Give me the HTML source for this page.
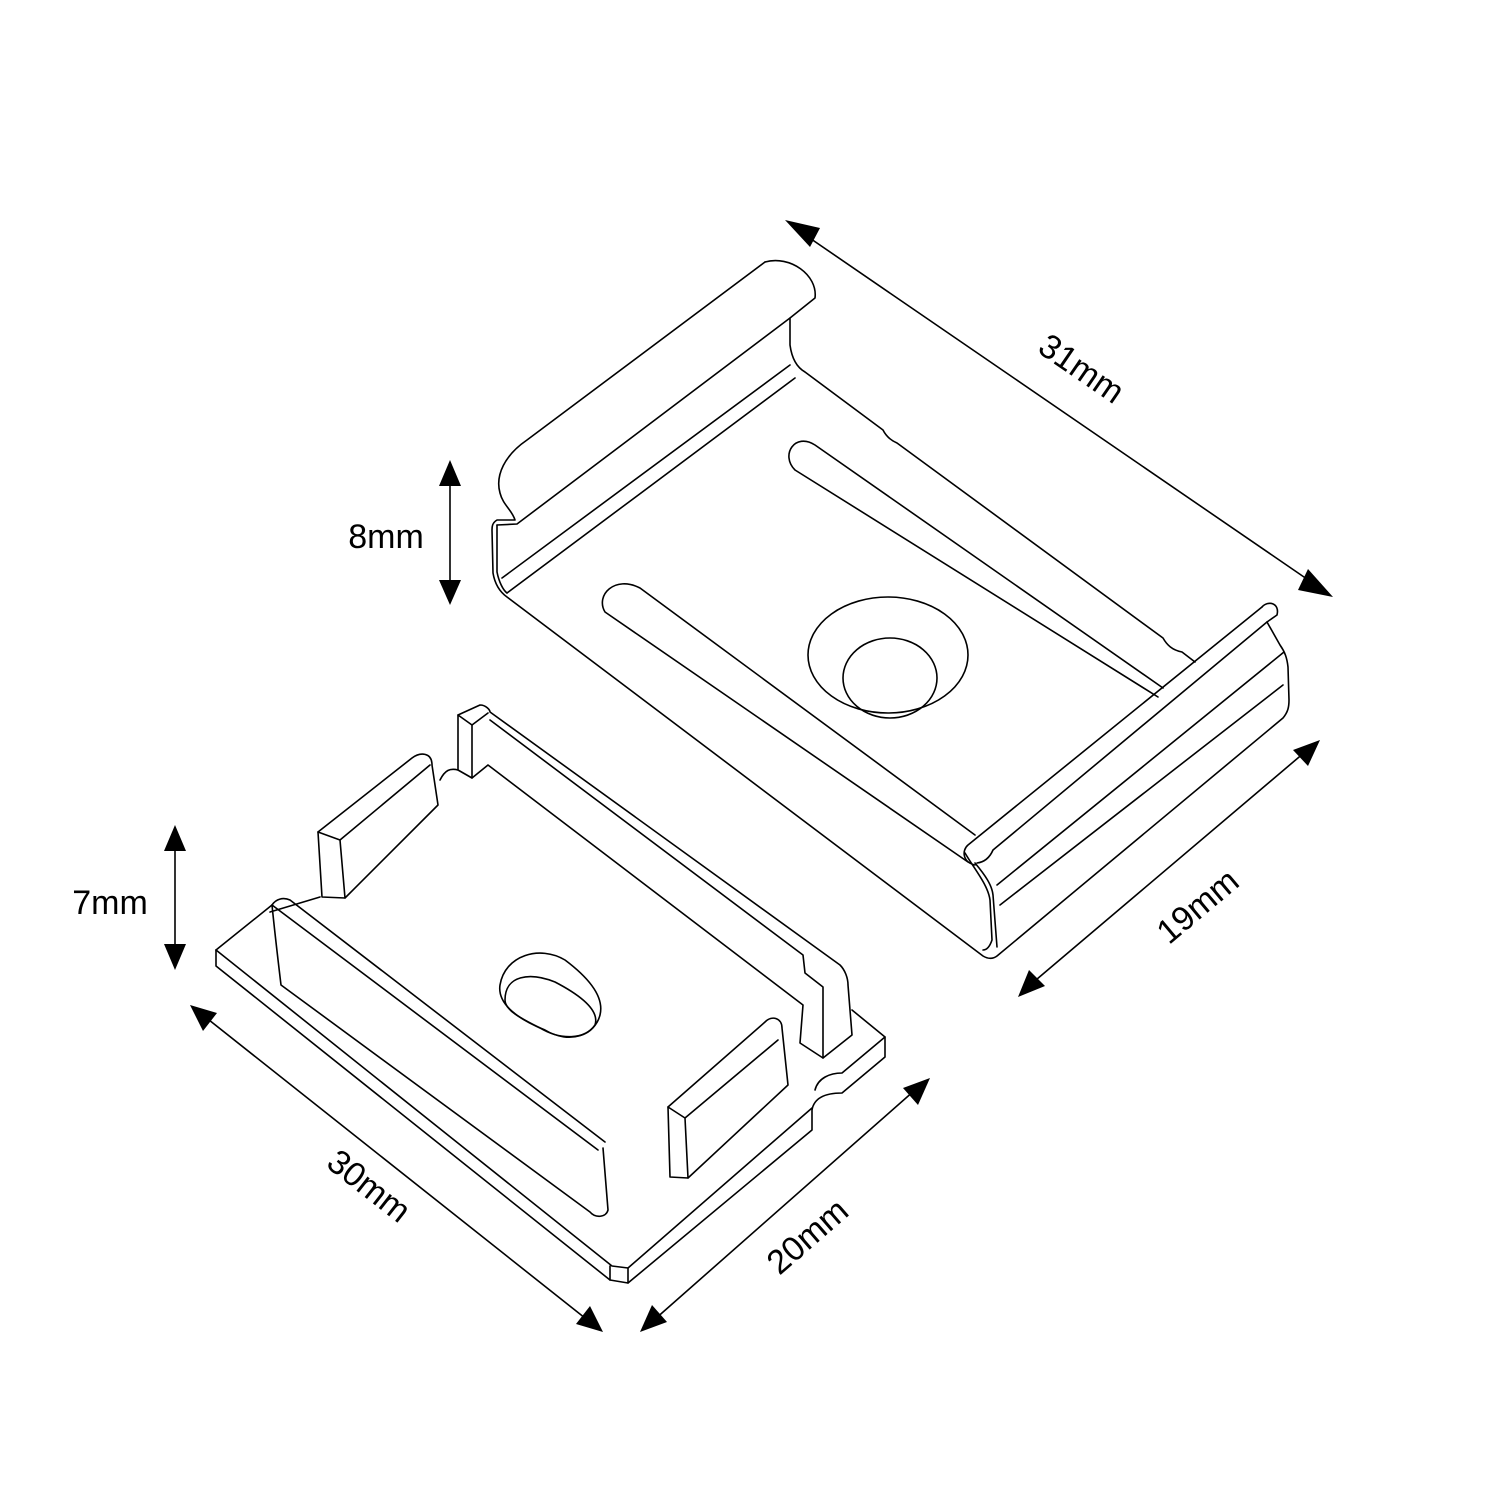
<!DOCTYPE html>
<html><head><meta charset="utf-8"><style>
html,body{margin:0;padding:0;background:#fff}
svg{display:block}
text{font-family:"Liberation Sans",sans-serif;font-size:34px;fill:#000}
</style></head><body>
<svg width="1501" height="1501" viewBox="0 0 1501 1501" xmlns="http://www.w3.org/2000/svg">
<g fill="none" stroke="#000" stroke-width="1.6" stroke-linejoin="round" stroke-linecap="round">
<!-- TOP CLIP -->
<path d="M765,262 L527,440 C505,455 495,475 500,493 C503,505 512,510 515,520 L497,520 C492,523 492,527 492,530 L493,573 C495,585 500,592 507,597 L983,956 C988,959 993,959 997,956 L1283,718 C1288,712 1289,707 1289,700 L1288,667 C1287,658 1285,652 1280,645 L1267,622"/>
<path d="M765,262 C790,255 818,275 815,298 L790,318 L517,524 L497,525"/>
<path d="M497,525 L497,572 C499,582 503,590 507,593"/>
<path d="M502,578 L790,365 M507,593 L795,378"/>
<path d="M790,318 L790,345 C792,360 798,368 805,372 L883,430 C886,436 890,440 897,443 L1163,638 C1167,645 1172,650 1182,652 L1195,662"/>
<!-- front lip -->
<path d="M1262,607 C1268,600 1280,603 1277,615 L1267,622 L993,850 C990,857 985,862 977,863"/>
<path d="M1262,607 L968,845 C962,850 962,862 975,865"/>
<path d="M975,863 C985,875 992,885 993,895 L997,947"/>
<path d="M965,853 C975,870 988,885 990,900 L992,940 C990,946 987,950 983,950"/>
<path d="M997,885 L1284,652 M1000,905 L1283,685"/>
<!-- slots -->
<path d="M1163,688 L815,445 C795,432 780,455 795,470 L1158,697"/>
<path d="M975,835 L640,588 C615,575 595,595 605,612 L968,862"/>
<ellipse cx="888" cy="655" rx="80" ry="58"/>
<ellipse cx="890" cy="678" rx="47" ry="40"/>

<!-- BOTTOM CAP -->
<path d="M216,950 L272,905"/>
<path d="M216,950 L216,966 L610,1280 L628,1283 L812,1130 L812,1110 C814,1098 825,1093 842,1093 L885,1057 L885,1037 L852,1010"/>
<path d="M216,950 L612,1266 L628,1268 L812,1108"/>
<path d="M610,1266 L610,1280 M628,1268 L628,1283"/>
<path d="M885,1037 L842,1073 C830,1073 818,1078 815,1090"/>
<!-- long wall -->
<path d="M272,905 C276,899 283,897 290,900 L605,1142"/>
<path d="M272,905 L598,1150"/>
<path d="M272,905 C275,935 278,960 281,985 L590,1212 C595,1218 606,1218 608,1210 L603,1148"/>
<path d="M270,912 L320,897"/>
<!-- back rail -->
<path d="M458,715 L480,705 C486,705 490,710 490,712 L840,965 C845,970 848,978 848,985 L852,1035 L823,1058 L823,987 L805,973 L803,955 L490,720"/>
<path d="M458,715 L472,725 L472,778 L458,770 Z"/>
<path d="M472,725 L488,713"/>
<path d="M472,778 L488,765 L803,1005 L800,1043 L823,1058"/>
<path d="M440,780 C445,770 450,768 458,770"/>
<!-- back tab -->
<path d="M318,832 L412,758 C420,752 432,752 432,765 L438,805 L345,898 L322,897 Z"/>
<path d="M318,832 L340,840 L345,898 M340,840 L430,765"/>
<!-- front tab -->
<path d="M668,1107 L765,1022 C772,1015 782,1018 782,1028 L788,1085 L688,1178 L670,1177 Z"/>
<path d="M668,1107 L685,1118 L688,1178 M685,1118 L778,1040"/>
<!-- hole -->
<path d="M500,985 C505,955 540,945 565,960 C585,975 605,995 600,1015 C595,1035 570,1045 545,1030 C520,1020 497,1005 500,985 Z"/>
<path d="M505,1000 C505,975 530,972 555,982 C580,995 600,1010 595,1025 C585,1040 560,1040 540,1028 C520,1018 505,1010 505,1000 Z"/>

<!-- DIMENSION LINES -->
<path d="M798,230 L1320,588"/>
<path d="M1030,985 L1305,752"/>
<path d="M450,478 L450,588"/>
<path d="M175,842 L175,955"/>
<path d="M204,1016 L590,1322"/>
<path d="M654,1320 L915,1090"/>
</g>
<g fill="#000">
<polygon points="785,220 810,247 820,228"/>
<polygon points="1333,597 1308,569 1298,590"/>
<polygon points="1018,997 1045,986 1029,970"/>
<polygon points="1320,740 1293,750 1308,766"/>
<polygon points="450,460 439,486 461,486"/>
<polygon points="450,605 439,580 461,580"/>
<polygon points="175,825 164,851 186,851"/>
<polygon points="175,970 164,944 186,944"/>
<polygon points="190,1005 203,1031 217,1013"/>
<polygon points="603,1332 590,1306 576,1324"/>
<polygon points="640,1332 667,1322 652,1305"/>
<polygon points="930,1078 903,1088 918,1105"/>
</g>
<text transform="translate(1075,378) rotate(34.5)" text-anchor="middle">31mm</text>
<text transform="translate(1205,915) rotate(-40)" text-anchor="middle">19mm</text>
<text x="386" y="548" text-anchor="middle">8mm</text>
<text x="110" y="914" text-anchor="middle">7mm</text>
<text transform="translate(362,1195) rotate(38)" text-anchor="middle">30mm</text>
<text transform="translate(815,1245) rotate(-41)" text-anchor="middle">20mm</text>
</svg>
</body></html>
